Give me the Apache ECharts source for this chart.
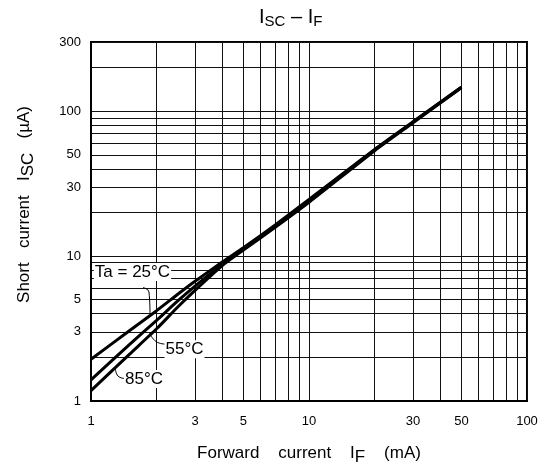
<!DOCTYPE html>
<html>
<head>
<meta charset="utf-8">
<script src="https://cdn.jsdelivr.net/npm/echarts@6/dist/echarts.min.js"></script>
<style>
  html, body { margin: 0; padding: 0; background: #fff; }
  #chart { width: 546px; height: 466px; }
</style>
</head>
<body>
<div id="chart"></div>
<script>
// forward current IF (mA)
const forwardCurrent = [1, 1.5, 2, 2.5, 3, 4, 5, 7, 10, 20, 30, 50];
// short current ISC (µA) at each ambient temperature
const isc25 = [1.94, 3.05, 4.2, 5.45, 6.7, 9.1, 11.4, 16.4, 24.6, 54.5, 84.5, 146];
const isc55 = [1.40, 2.45, 3.6, 4.9, 6.2, 8.8, 11.2, 16.1, 24.0, 54.0, 84.0, 146];
const isc85 = [1.18, 2.1, 3.15, 4.45, 5.8, 8.6, 11.0, 15.8, 23.5, 53.3, 83.0, 145];

const xTickLabels = [1, 3, 5, 10, 30, 50, 100];
const yTickLabels = [1, 3, 5, 10, 30, 50, 100, 300];
const xGridValues = [1, 2, 3, 4, 5, 6, 7, 8, 9, 10, 20, 30, 40, 50, 60, 70, 80, 90, 100];
const yGridValues = [1, 2, 3, 4, 5, 6, 7, 8, 9, 10, 20, 30, 40, 50, 60, 70, 80, 90, 100, 200, 300];

// temperature labels: [IF, ISC, text]
const tempLabels = [
  [1.55, 7.76, 'Ta = 25°C'],
  [2.685, 2.28, '55°C'],
  [1.75, 1.42, '85°C']
];
// small leader curves from the labels to the lines
const leader25 = [[1.732, 6.06], [1.845, 5.65], [1.865, 4.04]];
const leader55 = [[2.19, 2.47], [1.993, 2.565], [1.86, 2.93]];
const leader85 = [[1.428, 1.43], [1.33, 1.487], [1.295, 1.663]];

const FONT = '"Liberation Sans", Arial, sans-serif';

function pairs(xs, ys) {
  return xs.map((x, i) => [x, ys[i]]);
}

function curve(data) {
  return {
    type: 'line',
    data: data,
    smooth: 0.2,
    showSymbol: false,
    silent: true,
    lineStyle: { color: '#000', width: 3 },
    z: 3
  };
}

function leader(data) {
  return {
    type: 'line',
    data: data,
    smooth: true,
    showSymbol: false,
    silent: true,
    lineStyle: { color: '#000', width: 1 },
    z: 4
  };
}

let chart = echarts.init(document.getElementById('chart'));

chart.setOption({
  animation: false,
  backgroundColor: '#fff',
  title: {
    text: '{a|I}{s|SC}{a| – I}{s|F}',
    left: 259,
    top: 6,
    padding: 0,
    textStyle: {
      fontWeight: 'normal',
      rich: {
        a: { fontSize: 20, fontFamily: FONT, fontWeight: 'normal', color: '#000' },
        s: { fontSize: 15, fontFamily: FONT, fontWeight: 'normal', color: '#000', padding: [8, 0, 0, 0] }
      }
    }
  },
  grid: {
    left: 91,
    right: 19,
    top: 42,
    bottom: 65,
    outerBoundsMode: 'none',
    containLabel: false,
    show: true,
    borderColor: '#000',
    borderWidth: 2
  },
  xAxis: {
    type: 'log',
    logBase: 10,
    min: 1,
    max: 100,
    name: '{t|Forward    current    I}{s|F}{t|    (mA)}',
    nameLocation: 'middle',
    nameGap: 39,
    nameTextStyle: {
      rich: {
        t: { fontSize: 17, fontFamily: FONT, color: '#000' },
        s: { fontSize: 17, fontFamily: FONT, color: '#000', padding: [9, 0, 0, 0] }
      }
    },
    axisLine: { lineStyle: { color: '#000', width: 2 } },
    axisTick: { show: false, customValues: xGridValues },
    axisLabel: {
      customValues: xTickLabels,
      formatter: v => String(v),
      margin: 14,
      fontSize: 13,
      fontFamily: FONT,
      color: '#000'
    },
    splitLine: { show: true, lineStyle: { color: '#111', width: 1 } },
    minorTick: { show: false },
    minorSplitLine: { show: false }
  },
  yAxis: {
    type: 'log',
    logBase: 10,
    min: 1,
    max: 300,
    name: '{t|Short   current   I}{s|SC}{t|   (µA)}',
    nameLocation: 'middle',
    nameRotate: 90,
    nameGap: 54,
    nameTextStyle: {
      padding: [0, 0, 0, 34],
      rich: {
        t: { fontSize: 17, fontFamily: FONT, color: '#000' },
        s: { fontSize: 17, fontFamily: FONT, color: '#000', padding: [9, 0, 0, 0] }
      }
    },
    axisLine: { show: true, lineStyle: { color: '#000', width: 2 } },
    axisTick: { show: false, customValues: yGridValues },
    axisLabel: {
      customValues: yTickLabels,
      formatter: v => String(v),
      margin: 10,
      fontSize: 13,
      fontFamily: FONT,
      color: '#000'
    },
    splitLine: { show: true, lineStyle: { color: '#111', width: 1 } },
    minorTick: { show: false },
    minorSplitLine: { show: false }
  },
  series: [
    curve(pairs(forwardCurrent, isc25)),
    curve(pairs(forwardCurrent, isc55)),
    curve(pairs(forwardCurrent, isc85)),
    leader(leader25),
    leader(leader55),
    leader(leader85),
    {
      type: 'scatter',
      data: tempLabels,
      symbolSize: 1,
      silent: true,
      itemStyle: { color: '#fff', opacity: 1 },
      label: {
        show: true,
        position: 'inside',
        formatter: p => p.data[2],
        fontSize: 17,
        fontFamily: FONT,
        color: '#000',
        opacity: 1,
        textBorderWidth: 0,
        backgroundColor: '#fff',
        padding: [1, 1, 0, 1]
      },
      z: 5
    }
  ]
});
</script>
</body>
</html>
